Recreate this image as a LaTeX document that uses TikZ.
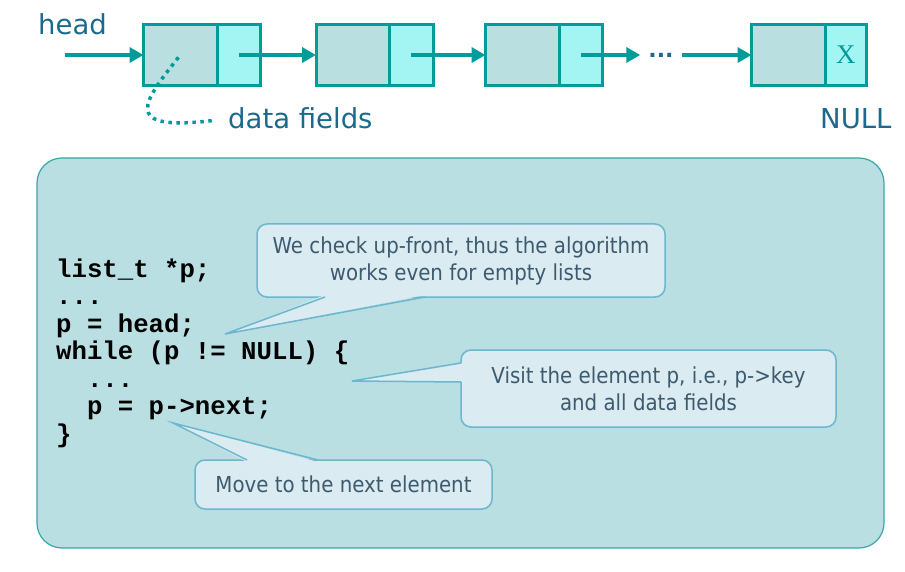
\documentclass[tikz,border=0pt]{standalone}
\usepackage{fontspec}
\setmainfont{DejaVu Sans}
\setmonofont{Liberation Mono}
\newfontfamily\callfont[FakeStretch=0.9]{DejaVu Sans}
\newfontfamily\crossfont{Liberation Serif}
\usepackage{tikz}
\usetikzlibrary{positioning, arrows.meta, calc}
\definecolor{listteal}{HTML}{009B9B}
\definecolor{labelblue}{HTML}{1A6A8E}
\definecolor{datafill}{HTML}{BADFE0}
\definecolor{ptrfill}{HTML}{A2F5F2}
\definecolor{panelfill}{HTML}{B9DFE2}
\definecolor{panelline}{HTML}{35A8A8}
\definecolor{callfill}{HTML}{DAEBF1}
\definecolor{callline}{HTML}{6CB6CE}
\definecolor{calltext}{HTML}{3D5A6E}

\begin{document}
\begin{tikzpicture}[
  x=1pt, y=-1pt,
  lbl/.style={text=labelblue, font=\fontsize{27.5}{30}\selectfont, inner sep=0pt},
  datafld/.style={draw=listteal, line width=3pt, fill=datafill, outer sep=0pt,
                  inner sep=0pt, minimum width=73.5pt, minimum height=61pt},
  ptrfld/.style={draw=listteal, line width=3pt, fill=ptrfill, outer sep=0pt,
                 inner sep=0pt, minimum width=43.5pt, minimum height=61pt},
  larr/.style={-{Triangle[length=14pt, width=15pt]}, line width=4pt, listteal},
  codetxt/.style={font=\ttfamily\bfseries\fontsize{25.7}{27.5}\selectfont,
                  align=left, inner sep=0pt},
  callbox/.style={draw=callline, line width=1.5pt, fill=callfill, rounded corners=10pt,
                  text=calltext, font=\callfont\fontsize{22}{27}\selectfont,
                  align=center, inner sep=0pt, outer sep=0pt},
  callside/.style={draw=callline, line width=1.5pt},
]
\useasboundingbox (0,0) rectangle (905,572);

% list at the top
\node[datafld] (d1) at (180.25,55) {};
\node[ptrfld, right=0pt of d1] (p1) {};
\node[datafld] (d2) at (352.75,55) {};
\node[ptrfld, right=0pt of d2] (p2) {};
\node[datafld] (d3) at (522.25,55) {};
\node[ptrfld, right=0pt of d3] (p3) {};
\node[datafld] (d4) at (788.25,55) {};
\node[ptrfld, minimum width=41.5pt, right=0pt of d4] (p4) {};
\node[font=\crossfont\fontsize{27}{27}\selectfont, text=listteal, inner sep=0pt] (cross) at (p4) {X};

\node[lbl, anchor=base west] (head) at (38,35) {head};
\node[lbl, anchor=base west] (fields) at (228,129) {data fields};
\node[lbl, anchor=base west] (null) at (820,129) {NULL};
\node[text=labelblue, font=\bfseries\fontsize{22}{22}\selectfont, inner xsep=8pt, inner ysep=0pt,
      anchor=base] (dots) at (661,58) {...};

\coordinate (headin) at (65,55);
\draw[larr] (headin) -- (d1.west);
\draw[larr] (p1.center) -- (d2.west);
\draw[larr] (p2.center) -- (d3.west);
\draw[larr] (p3.center) -- (p3.center -| dots.west);
\draw[larr] (d4.west -| dots.east) -- (d4.west);

% dotted hint to the data fields
\draw[listteal, line width=3.5pt, dash pattern=on 3.5pt off 4.5pt, shorten <=3pt, shorten >=16pt]
  (d1.center) .. controls +(-35,45) and +(-110,13) .. (fields.west);

% code panel
\node[draw=panelline, fill=panelfill, line width=1.2pt, rounded corners=25pt,
      minimum width=847pt, minimum height=390pt, inner sep=0pt] (panel) at (460.5,353) {};

\node[codetxt, anchor=base west] (code) at (56,442) {%
  list\_t *p;\\
  ...\\
  p = head;\\
  while (p != NULL) \{\\
  \phantom{xx}...\\
  \phantom{xx}p = p->next;\\
  \}};

% callouts
\node[callbox, minimum width=408pt, minimum height=73pt] (c1) at (461,260.5)
  {We check up-front, thus the algorithm\\works even for empty lists};
\coordinate (t1) at (225,334);
\fill[callfill] (t1) -- ($(c1.south west)+(68,-2)$) -- ($(c1.south west)+(168,-2)$) -- cycle;
\draw[callside] ($(c1.south west)+(68,0)$) -- (t1) -- ($(c1.south west)+(168,0)$);

\node[callbox, minimum width=375pt, minimum height=77pt] (c2) at (648.5,388.5)
  {Visit the element p, i.e., p->key\\and all data fields};
\coordinate (t2) at (352,381);
\fill[callfill] (t2) -- ($(c2.north west)+(2,13)$) -- ($(c2.north west)+(2,32)$) -- cycle;
\draw[callside] ($(c2.north west)+(0,13)$) -- (t2) -- ($(c2.north west)+(0,32)$);

\node[callbox, minimum width=297pt, minimum height=49pt] (c3) at (343.5,484.5)
  {Move to the next element};
\coordinate (t3) at (173,423);
\fill[callfill] (t3) -- ($(c3.north west)+(52,2)$) -- ($(c3.north west)+(123,2)$) -- cycle;
\draw[callside] ($(c3.north west)+(52,0)$) -- (t3) -- ($(c3.north west)+(123,0)$);

\end{tikzpicture}
\end{document}
